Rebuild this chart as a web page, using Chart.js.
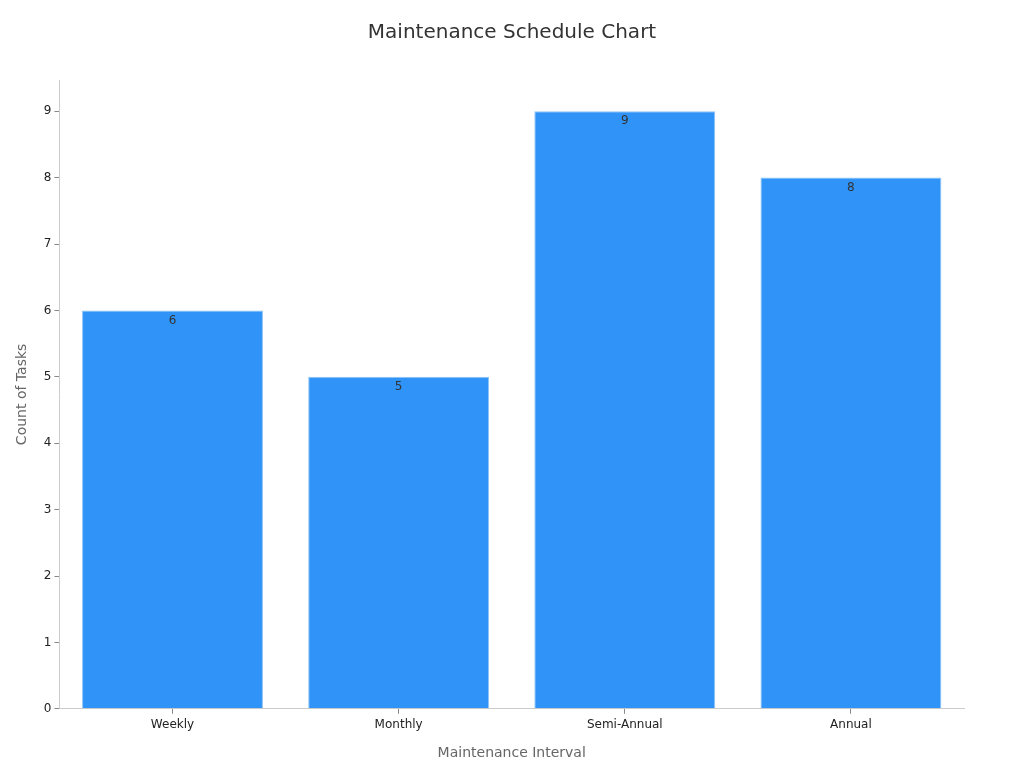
<!DOCTYPE html>
<html>
<head>
<meta charset="utf-8">
<script src="https://cdn.jsdelivr.net/npm/chart.js@4"></script>
<style>
  html, body { margin: 0; padding: 0; background: #fff; }
  #wrap { width: 1024px; height: 768px; }
</style>
</head>
<body>
<div id="wrap"><canvas id="chart" width="1024" height="768"></canvas></div>
<script>
// Datos del gráfico
const intervalos = ['Weekly', 'Monthly', 'Semi-Annual', 'Annual'];
const tareas = [6, 5, 9, 8];
const titulo = 'Maintenance Schedule Chart';

Chart.defaults.font.family = "'DejaVu Sans', sans-serif";

// Título centrado sobre todo el lienzo (el título nativo se centra en el área con padding)
const tituloCentrado = {
    id: 'tituloCentrado',
    afterDraw(chart) {
        const ctx = chart.ctx;
        ctx.save();
        ctx.font = "20px 'DejaVu Sans', sans-serif";
        ctx.fillStyle = '#333';
        ctx.textAlign = 'center';
        ctx.textBaseline = 'middle';
        ctx.fillText(titulo, chart.width / 2, 33);
        ctx.restore();
    }
};

// Etiquetas de valor dentro de la barra, cerca del borde superior
const etiquetasValor = {
    id: 'etiquetasValor',
    afterDatasetsDraw(chart) {
        const ctx = chart.ctx;
        const meta = chart.getDatasetMeta(0);
        ctx.save();
        ctx.font = "12px 'DejaVu Sans', sans-serif";
        ctx.fillStyle = '#333';
        ctx.textAlign = 'center';
        ctx.textBaseline = 'middle';
        meta.data.forEach((bar, i) => {
            ctx.fillText(String(tareas[i]), bar.x, bar.y + 10);
        });
        ctx.restore();
    }
};

new Chart(document.getElementById('chart'), {
    type: 'bar',
    data: {
        labels: intervalos,
        datasets: [{
            label: 'Count of Tasks',
            data: tareas,
            backgroundColor: '#2F93F7',
            borderColor: '#8EC3F5',
            borderWidth: 1,
            barPercentage: 0.8,
            categoryPercentage: 1.0
        }]
    },
    options: {
        responsive: false,
        animation: false,
        layout: { padding: { left: 10, right: 60, top: 80, bottom: 2 } },
        scales: {
            x: {
                grid: { drawOnChartArea: false, drawTicks: true, tickLength: 5, color: '#888', offset: false },
                border: { color: '#ccc' },
                ticks: { color: '#222', font: { size: 12 }, padding: 4 },
                title: { display: true, text: 'Maintenance Interval', color: '#666', font: { size: 14 }, padding: { top: 9 } }
            },
            y: {
                min: 0,
                max: 9.47,
                grid: { drawOnChartArea: false, drawTicks: true, tickLength: 5, color: '#888' },
                border: { color: '#ccc' },
                ticks: { stepSize: 1, color: '#222', font: { size: 12 }, padding: 3 },
                afterBuildTicks: (scale) => {
                    scale.ticks = scale.ticks.filter(t => Number.isInteger(t.value));
                },
                title: { display: true, text: 'Count of Tasks', color: '#666', font: { size: 14 }, padding: { bottom: 10 } }
            }
        },
        plugins: {
            legend: { display: false },
            tooltip: { enabled: false },
            title: { display: false }
        }
    },
    plugins: [etiquetasValor, tituloCentrado]
});
</script>
</body>
</html>
